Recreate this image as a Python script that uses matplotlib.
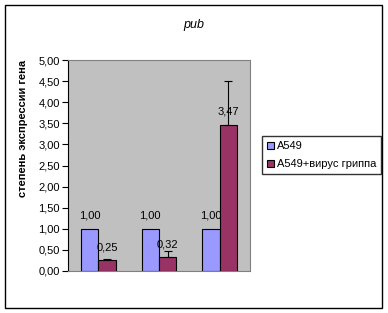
import matplotlib
matplotlib.use("Agg")
import matplotlib.pyplot as plt
from matplotlib.patches import Rectangle
import numpy as np

plt.rcParams['font.family'] = ['Liberation Sans', 'DejaVu Sans']

# data
groups = ["1", "2", "3"]
control = [1.00, 1.00, 1.00]
infected = [0.25, 0.32, 3.47]
infected_err = [0.03, 0.15, 1.03]
series_names = ["A549", "A549+вирус гриппа"]
title = "pub"
ylabel = "степень экспрессии гена"

W, H = 388, 313
fig = plt.figure(figsize=(W / 100, H / 100), dpi=100)
fig.patch.set_facecolor("white")

# outer chart border
fig.patches.append(Rectangle((5 / W, 1 - 308 / H), 377 / W, 303 / H, transform=fig.transFigure,
                             fill=False, edgecolor="black", linewidth=1.0))

ax = fig.add_axes([68 / W, 1 - 271 / H, 182 / W, 211 / H])
ax.set_facecolor("#C0C0C0")

x = np.arange(len(groups)) + 0.5
bw = 0.286
b1 = ax.bar(x - bw / 2, control, bw, color="#9999FF", edgecolor="black", linewidth=0.8, zorder=2,
            label=series_names[0])
b2 = ax.bar(x + bw / 2, infected, bw, color="#993366", edgecolor="black", linewidth=0.8, zorder=3,
            label=series_names[1])
ax.errorbar(x + bw / 2, infected, yerr=[np.zeros(len(infected)), infected_err], fmt="none",
            ecolor="black", elinewidth=0.8, capsize=3, capthick=0.8, zorder=5)

def fmt(v):
    return f"{v:.2f}".replace(".", ",")

px = 5.0 / 211  # data units per pixel
for xi, v in zip(x - bw / 2, control):
    ax.text(xi, v + 13 * px, fmt(v), ha="center", va="center", fontsize=8, zorder=2.5)
for xi, v in zip(x + bw / 2, infected):
    ax.text(xi, v + 13 * px, fmt(v), ha="center", va="center", fontsize=8, zorder=4)

ax.set_xlim(0, 3)
ax.set_ylim(0, 5)
ax.set_yticks(np.arange(0, 5.01, 0.5))
ax.set_yticklabels([fmt(t) for t in np.arange(0, 5.01, 0.5)], fontsize=8)
ax.set_xticks([])
ax.tick_params(axis="y", direction="out", length=4, width=0.8, pad=2)
for s in ["top", "right", "bottom"]:
    ax.spines[s].set_color("#808080")
    ax.spines[s].set_linewidth(0.8)
ax.spines["left"].set_color("black")
ax.spines["left"].set_linewidth(0.8)

fig.text(194 / W, 1 - 25 / H, title, ha="center", va="center", fontsize=9, style="italic")
fig.text(23.5 / W, 1 - 128 / H, ylabel, ha="center", va="center", rotation=90, fontsize=8,
         fontweight="bold")

leg = fig.legend(handles=[b1, b2], loc="upper left", bbox_to_anchor=(262 / W, 1 - 136 / H),
                 fontsize=8, frameon=True, fancybox=False, edgecolor="black", handlelength=0.6,
                 handleheight=0.6, handletextpad=0.3, labelspacing=0.75, borderpad=0.45,
                 borderaxespad=0)
leg.get_frame().set_linewidth(1.0)

fig.savefig("out.png", dpi=100)
